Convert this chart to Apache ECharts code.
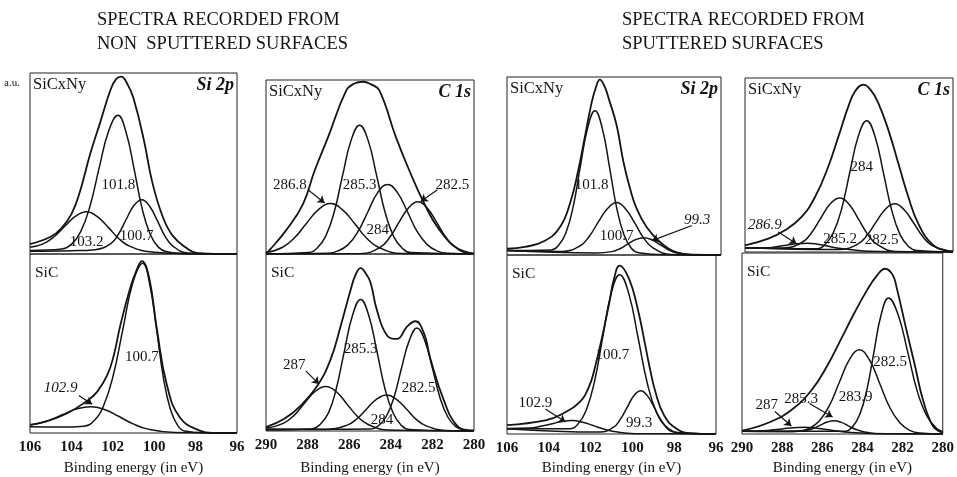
<!DOCTYPE html>
<html>
<head>
<meta charset="utf-8">
<script src="https://cdn.jsdelivr.net/npm/echarts@6/dist/echarts.min.js"></script>
<style>
html, body { margin: 0; padding: 0; background: #fff; }
#chart { width: 957px; height: 477px; }
</style>
</head>
<body>
<div id="chart"></div>
<script>
// tick labels of the binding energy axes
var siTicks = [106, 104, 102, 100, 98, 96];
var cTicks = [290, 288, 286, 284, 282, 280];

// intensities are in % of each sub panel height, [binding energy, intensity]
// --- Si 2p, non sputtered, SiCxNy
var p1tEnv = [[106,5.5],[105,9.5],[104.5,14],[104,22],[103.6,34],[103.1,55],[102.6,73],[102.1,91],[101.85,96.5],[101.6,98],[101.3,94],[101.0,86],[100.5,63],[100.1,40],[99.6,21],[99.1,10],[98.4,3],[97.9,0.5],[96,0]];
var p1t1018 = [[106,2],[104.45,2.8],[104,5.3],[103.55,12.4],[103.1,26.5],[102.65,48],[102.2,68],[101.75,76.6],[101.36,67.3],[100.97,46.9],[100.58,24.9],[100.19,10.8],[99.8,3.8],[99.4,1.2],[98.5,0.2],[96,0]];
var p1t1032 = [[106,3.7],[105.37,5.6],[104.85,9.4],[104.32,15.3],[103.8,20.9],[103.27,23.3],[102.75,20.6],[102.22,14.7],[101.7,8.4],[101.17,4.2],[100.12,1.1],[98.5,0.2],[96,0]];
var p1t1007 = [[106,1.5],[104,1.8],[102.85,2.4],[102.1,5.8],[101.73,10.9],[101.35,19.2],[100.98,26.8],[100.6,30],[100.22,26.4],[99.85,18.4],[99.48,9.9],[99.1,4.4],[98.35,0.5],[96,0]];
// --- Si 2p, non sputtered, SiC
var p1bEnv = [[106,4.5],[105.2,6.5],[104.2,11],[103.24,18],[102.76,23],[102.28,32],[101.96,43],[101.64,60],[101.16,81],[100.85,91],[100.6,96],[100.25,87],[99.87,58],[99.39,27],[98.75,8.5],[97.8,1.3],[97.2,0],[96,0]];
var p1b1007 = [[106,3.5],[104.5,3.3],[103.4,3.8],[102.92,6.7],[102.45,15.1],[101.98,32.1],[101.5,58.7],[101.03,84],[100.55,94.8],[100.22,83.3],[99.88,57.5],[99.55,30.4],[99.21,13],[98.87,4.3],[98.54,1.1],[97.5,0.1],[96,0]];
var p1b1029 = [[106,4.6],[105.75,5],[105.07,7.2],[104.4,10.4],[103.73,13.5],[103.05,14.7],[102.37,13],[101.7,9.2],[101.02,5.1],[100.35,2.3],[99,0.3],[96,0]];
// --- C 1s, non sputtered, SiCxNy
var p2tEnv = [[290,0.5],[289.81,2.5],[289.01,14],[288.21,29],[287.66,48],[287.02,67],[286.14,94],[285.75,98],[285.34,99],[284.95,97.5],[284.55,94],[283.75,67],[283.11,48],[282.39,29],[281.67,14],[280.72,2.5],[280,0.3]];
var p2t2868 = [[290,0.8],[289.2,3.9],[288.63,9.3],[288.05,17.7],[287.48,25.5],[286.9,29],[286.33,25.5],[285.75,17.7],[285.18,9.3],[284.6,3.9],[283.45,0.3],[280,0]];
var p2t2853 = [[290,0],[287.96,0.8],[287.55,3.3],[287.14,10],[286.73,23.7],[286.32,45],[285.91,65.3],[285.5,74],[285.09,65.3],[284.68,45],[284.27,23.7],[283.86,10],[283.45,3.3],[283.04,0.8],[280,0]];
var p2t284 = [[290,0],[287,0.4],[286.53,1.8],[286.05,5.4],[285.58,12.8],[285.1,24.3],[284.63,35.3],[284.15,40],[283.68,35.3],[283.2,24.3],[282.73,12.8],[282.25,5.4],[281.78,1.8],[281.3,0.4],[280,0]];
var p2t2825 = [[290,0],[285.4,0.3],[284.5,4],[284.05,9.6],[283.6,18.3],[283.15,26.5],[282.7,30],[282.25,26.5],[281.8,18.3],[281.35,9.6],[280.9,4],[280,0.3]];
// --- C 1s, non sputtered, SiC
var p2bEnv = [[290,2.2],[289.12,6.9],[288.33,14.4],[287.53,25.6],[286.89,40.6],[286.41,59.3],[285.93,79.8],[285.7,88],[285.45,92],[285.2,89],[284.98,84],[284.66,68],[284.18,54],[283.7,52],[283.22,59],[282.82,62],[282.4,55],[282.1,41],[281.47,18],[280.83,3.2],[280.2,0.4],[280,0.3]];
var p2b287 = [[290,1.5],[289.17,4.3],[288.66,8.7],[288.15,15.7],[287.64,22.3],[287.13,25.1],[286.62,22.2],[286.11,15.3],[285.6,8.2],[285.09,3.7],[284.07,0.5],[280,0]];
var p2b2853 = [[290,0.5],[287.79,1.2],[287.4,3.7],[286.99,10.4],[286.62,24],[286.23,45.3],[285.84,65.4],[285.45,74.3],[285.06,65.3],[284.67,45.2],[284.28,23.9],[283.89,10.2],[283.5,3.3],[283.11,0.9],[280,0]];
var p2b284 = [[290,1],[287.05,0.9],[286.1,3.3],[285.63,6.9],[285.15,12.6],[284.68,18],[284.2,20.3],[283.73,17.9],[283.25,12.4],[282.78,6.6],[282.3,2.9],[281.35,0.3],[280,0]];
var p2b2825 = [[290,1],[284.96,1.1],[284.59,3],[284.22,8.2],[283.85,18.9],[283.48,35.7],[283.11,51.2],[282.74,58.2],[282.37,51.2],[282,35.5],[281.63,18.7],[281.26,7.9],[280.89,2.6],[280.52,0.7],[280,0.2]];
// --- Si 2p, sputtered, SiCxNy
var p3tEnv = [[106,3.5],[105.17,4.5],[104.23,8],[103.53,15.6],[103.06,28.8],[102.67,47.6],[102.36,66.5],[102.05,85.3],[101.85,94],[101.66,98.5],[101.45,95],[101.25,88],[100.88,73],[100.56,52.4],[100.25,37.3],[99.94,26],[99.47,15.6],[98.84,7.2],[98.06,1.5],[97.3,0.2],[96,0]];
var p3t1018 = [[106,2.5],[103.93,2.8],[103.59,5.5],[103.25,12.4],[102.91,27],[102.57,49.9],[102.23,71.5],[101.89,81],[101.55,71.3],[101.21,49.4],[100.87,26.2],[100.53,11.2],[100.19,3.8],[99.85,1.2],[98.5,0.1],[96,0]];
var p3t1007 = [[106,2.5],[103.43,2],[102.58,5.2],[102.16,10.4],[101.73,18.6],[101.3,26.1],[100.88,29.5],[100.46,25.9],[100.03,18],[99.61,9.5],[99.18,4],[98.33,0.3],[96,0]];
var p3t993 = [[106,2.5],[101.85,1.1],[101.1,1.9],[100.73,3.5],[100.35,6.2],[99.98,8.7],[99.6,9.7],[99.23,8.5],[98.85,5.9],[98.48,3.1],[98.1,1.3],[97.35,0.1],[96,0]];
// --- Si 2p, sputtered, SiC
var p3bEnv = [[106,5],[104.16,7.6],[103.36,11.2],[102.56,17.4],[102.08,26.3],[101.76,38.7],[101.44,54.7],[101.12,72.5],[100.88,86.7],[100.61,94.1],[100.16,86.7],[99.76,70.7],[99.44,52.9],[99.2,38.7],[98.88,22.7],[98.48,10.3],[97.92,3.2],[97.28,0.5],[96,0]];
var p3b1007 = [[106,3],[103.01,3],[102.61,5.5],[102.21,13.3],[101.81,29.5],[101.41,54.7],[101.01,78.8],[100.61,89],[100.17,78.3],[99.73,53.9],[99.29,28.5],[98.85,12],[98.41,4],[97.97,1],[96,0]];
var p3b1029 = [[106,3.1],[104.88,3.3],[104.38,4.3],[103.88,5.6],[103.38,7],[102.88,7.5],[102.38,6.6],[101.88,4.7],[101.38,2.8],[100.88,1.4],[99.88,0.2],[96,0]];
var p3b993 = [[106,3],[101.55,1.1],[100.9,3.8],[100.58,8.2],[100.25,14.9],[99.93,21.4],[99.6,24.2],[99.28,21.3],[98.95,14.7],[98.63,7.8],[98.3,3.3],[97.65,0.3],[96,0]];
// --- C 1s, sputtered, SiCxNy
var p4tEnv = [[290,3.8],[288.88,7.7],[288.08,12.5],[287.28,20.2],[286.63,31.7],[286,49],[285.51,66.3],[285.03,83.7],[284.7,92.5],[284.31,96.2],[283.95,93],[283.59,85.6],[283.11,70.2],[282.63,51],[282.15,31.7],[281.67,16.3],[281.03,4.8],[280.38,1],[280,0.5]];
var p4t284 = [[290,2.5],[286.55,1.9],[286.15,4.3],[285.75,11.2],[285.35,25],[284.95,46.4],[284.55,66.7],[284.15,75.5],[283.75,66.4],[283.35,45.8],[282.95,24.2],[282.55,10.1],[282.15,3.3],[281.75,0.8],[280,0]];
var p4t2852 = [[290,2.5],[288.15,2.3],[287.25,5.6],[286.8,11.1],[286.35,19.6],[285.9,27.7],[285.45,31.1],[285,27.5],[284.55,19],[284.1,10.1],[283.65,4.4],[282.75,0.3],[280,0]];
var p4t2825 = [[290,2.5],[285.5,1.4],[284.6,4.4],[284.15,9.3],[283.7,17.2],[283.25,24.6],[282.8,27.7],[282.35,24.3],[281.9,16.8],[281.45,8.8],[281,3.7],[280.1,0.3],[280,0.2]];
var p4t2869 = [[290,2.5],[289,2.5],[288.5,3],[288,3.9],[287.5,4.8],[287,5.1],[286.5,4.5],[286,3.3],[285.5,2.2],[285,1.5],[284,0.5],[280,0]];
// --- C 1s, sputtered, SiC
var p4bEnv = [[290,1.8],[288.69,6.2],[287.54,13.3],[286.56,23.9],[285.74,38],[285.08,52.1],[284.43,66.3],[283.77,79.5],[283.28,87.5],[282.87,91.3],[282.5,88],[282.3,81],[281.8,57],[281.39,38],[280.98,18.6],[280.49,4.4],[280.08,0.9],[280,0.5]];
var p4b2825 = [[290,1.5],[284.86,1.5],[284.5,3.9],[284.14,10.6],[283.78,24.4],[283.42,45.8],[283.06,66.3],[282.7,75.2],[282.23,66.1],[281.75,45.5],[281.28,24],[280.8,10.1],[280.33,3.3],[280,1.4]];
var p4b2839 = [[290,1.5],[287.15,1.7],[286.65,3.1],[286.15,7.2],[285.65,15.6],[285.15,28.6],[284.65,41.1],[284.15,46.5],[283.65,40.9],[283.15,28.2],[282.65,14.9],[282.15,6.3],[281.65,2],[281.15,0.5],[280,0]];
var p4b2853 = [[290,1.5],[287.5,1.3],[286.8,2],[286.45,3.1],[286.1,4.9],[285.75,6.6],[285.4,7.3],[285.05,6.4],[284.7,4.5],[284.35,2.6],[284,1.4],[283.3,0.2],[280,0]];
var p4b287 = [[290,1.5],[289.1,1.7],[288.55,2.2],[288,2.8],[287.45,3.5],[286.9,3.7],[286.35,3.3],[285.8,2.5],[285.25,1.6],[284.7,0.9],[283.6,0.3],[280,0]];

var SERIF = '"Liberation Serif", "Times New Roman", serif';
var INK = '#141414';

// one entry per sub panel; notes = [text, x, y, italic], arrows = [x1, y1, x2, y2]
var panels = [
    {box: [30, 73, 207, 181], ticks: siTicks, tag: 'SiCxNy', core: 'Si 2p',
     curves: [p1tEnv, p1t1018, p1t1032, p1t1007],
     notes: [['101.8', 101.73, 38], ['103.2', 103.26, 6.8], ['100.7', 100.85, 10.1]], arrows: []},
    {box: [30, 254, 207, 185], ticks: siTicks, tag: 'SiC', bottom: true, nameGap: 28,
     curves: [p1bEnv, p1b1007, p1b1029],
     notes: [['100.7', 100.6, 42.7], ['102.9', 104.52, 25.2, true]], arrows: [[103.64, 21, 103.0, 16]]},
    {box: [266, 80, 208, 174], ticks: cTicks, tag: 'SiCxNy', core: 'C 1s',
     curves: [p2tEnv, p2t2868, p2t2853, p2t284, p2t2825],
     notes: [['286.8', 288.85, 39.4], ['285.3', 285.5, 39.4], ['284', 284.63, 14], ['282.5', 281.04, 39.4]],
     arrows: [[287.98, 36.9, 287.18, 29.3], [281.76, 36.9, 282.56, 30.2]]},
    {box: [266, 254, 208, 178], ticks: cTicks, tag: 'SiC', bottom: true, nameGap: 30,
     curves: [p2bEnv, p2b287, p2b2853, p2b284, p2b2825],
     notes: [['287', 288.64, 37.2], ['285.3', 285.45, 46.2], ['282.5', 282.66, 24.3], ['284', 284.42, 6]],
     arrows: [[288.09, 34, 287.45, 26.5]]},
    {box: [507, 77, 214, 178], ticks: siTicks, tag: 'SiCxNy', core: 'Si 2p',
     curves: [p3tEnv, p3t1018, p3t1007, p3t993],
     notes: [['101.8', 102.05, 39.2], ['100.7', 100.88, 10.9], ['99.3', 97.12, 19.4, true]],
     arrows: [[97.36, 16.6, 99.23, 8.1]]},
    {box: [507, 255, 209, 188], ticks: siTicks, tag: 'SiC', bottom: true, nameGap: 27,
     curves: [p3bEnv, p3b1007, p3b1029, p3b993],
     notes: [['100.7', 100.96, 44], ['102.9', 104.64, 17.4], ['99.3', 99.68, 5.9]],
     arrows: [[104.16, 13.9, 103.2, 6.7]]},
    {box: [745, 78, 208, 174], ticks: cTicks, tag: 'SiCxNy', core: 'C 1s',
     curves: [p4tEnv, p4t284, p4t2852, p4t2825, p4t2869],
     notes: [['284', 284.39, 49], ['285.2', 285.43, 7.7], ['282.5', 283.43, 6.7], ['286.9', 289.04, 15.4, true]],
     arrows: [[288.4, 11.5, 287.52, 4.8]]},
    {box: [742, 253, 203, 189], ticks: cTicks, tag: 'SiC', bottom: true, nameGap: 27,
     curves: [p4bEnv, p4b2825, p4b2839, p4b2853, p4b287],
     notes: [['282.5', 282.62, 39.8], ['283.9', 284.34, 20.3], ['285.3', 287.05, 19.1], ['287', 288.77, 15.9]],
     arrows: [[286.64, 16.8, 285.49, 9.4], [288.36, 12.4, 287.54, 4.4]]}
];

function txt(text, x, y, font, align) {
    return {type: 'text', x: x, y: y, silent: true,
        style: {text: text, font: font, fill: INK, textAlign: align || 'left', textVerticalAlign: 'top'}};
}

var option = {
    animation: false,
    backgroundColor: '#fff',
    grid: [], xAxis: [], yAxis: [], series: [],
    graphic: [
        txt('SPECTRA RECORDED FROM', 97, 11, '18.5px ' + SERIF),
        txt('NON  SPUTTERED SURFACES', 97, 35, '18.5px ' + SERIF),
        txt('SPECTRA RECORDED FROM', 622, 11, '18.5px ' + SERIF),
        txt('SPUTTERED SURFACES', 622, 35, '18.5px ' + SERIF),
        txt('a.u.', 4, 78, '11px ' + SERIF)
    ]
};

panels.forEach(function(p, i) {
    var b = p.box;
    option.grid.push({left: b[0], top: b[1], width: b[2], height: b[3],
        show: true, borderColor: '#222', borderWidth: 1});
    option.xAxis.push({
        gridIndex: i, type: 'value', inverse: true,
        min: p.ticks[p.ticks.length - 1], max: p.ticks[0], interval: p.ticks[0] - p.ticks[1],
        axisLine: {show: false}, axisTick: {show: false}, splitLine: {show: false},
        axisLabel: {show: !!p.bottom, margin: 7, color: INK, fontSize: 15, fontWeight: 'bold', fontFamily: SERIF},
        name: p.bottom ? 'Binding energy (in eV)' : '',
        nameLocation: 'middle', nameGap: p.nameGap || 0,
        nameTextStyle: {color: INK, fontSize: 15, fontFamily: SERIF}
    });
    option.yAxis.push({gridIndex: i, type: 'value', min: 0, max: 100, show: false});

    p.curves.forEach(function(c, k) {
        var s = {
            type: 'line', xAxisIndex: i, yAxisIndex: i, data: c,
            showSymbol: false, symbol: 'none', smooth: 0.45, silent: true,
            lineStyle: {color: INK, width: k === 0 ? 1.8 : 1.5}
        };
        if (k === 0) {
            s.markPoint = {
                symbol: 'rect', symbolSize: 0, silent: true,
                data: p.notes.map(function(n) {
                    return {coord: [n[1], n[2]], value: n[0],
                        label: {show: true, position: 'inside', formatter: n[0], color: INK,
                            fontSize: 15, fontFamily: SERIF, fontStyle: n[3] ? 'italic' : 'normal'}};
                })
            };
            s.markLine = {
                silent: true, symbol: ['none', 'arrow'], symbolSize: 7,
                label: {show: false},
                lineStyle: {color: INK, width: 1.2, type: 'solid'},
                data: p.arrows.map(function(a) {
                    return [{coord: [a[0], a[1]]}, {coord: [a[2], a[3]]}];
                })
            };
        }
        option.series.push(s);
    });

    if (p.bottom) {
        option.graphic.push(txt(p.tag, b[0] + 5, b[1] + 11, '15.5px ' + SERIF));
    } else {
        option.graphic.push(txt(p.tag, b[0] + 3, b[1] + 3, '16.5px ' + SERIF));
    }
    if (p.core) {
        option.graphic.push(txt(p.core, b[0] + b[2] - 3, b[1] + 3, 'italic bold 18px ' + SERIF, 'right'));
    }
});

var chart = echarts.init(document.getElementById('chart'), null, {renderer: 'canvas'});
chart.setOption(option);
</script>
</body>
</html>
